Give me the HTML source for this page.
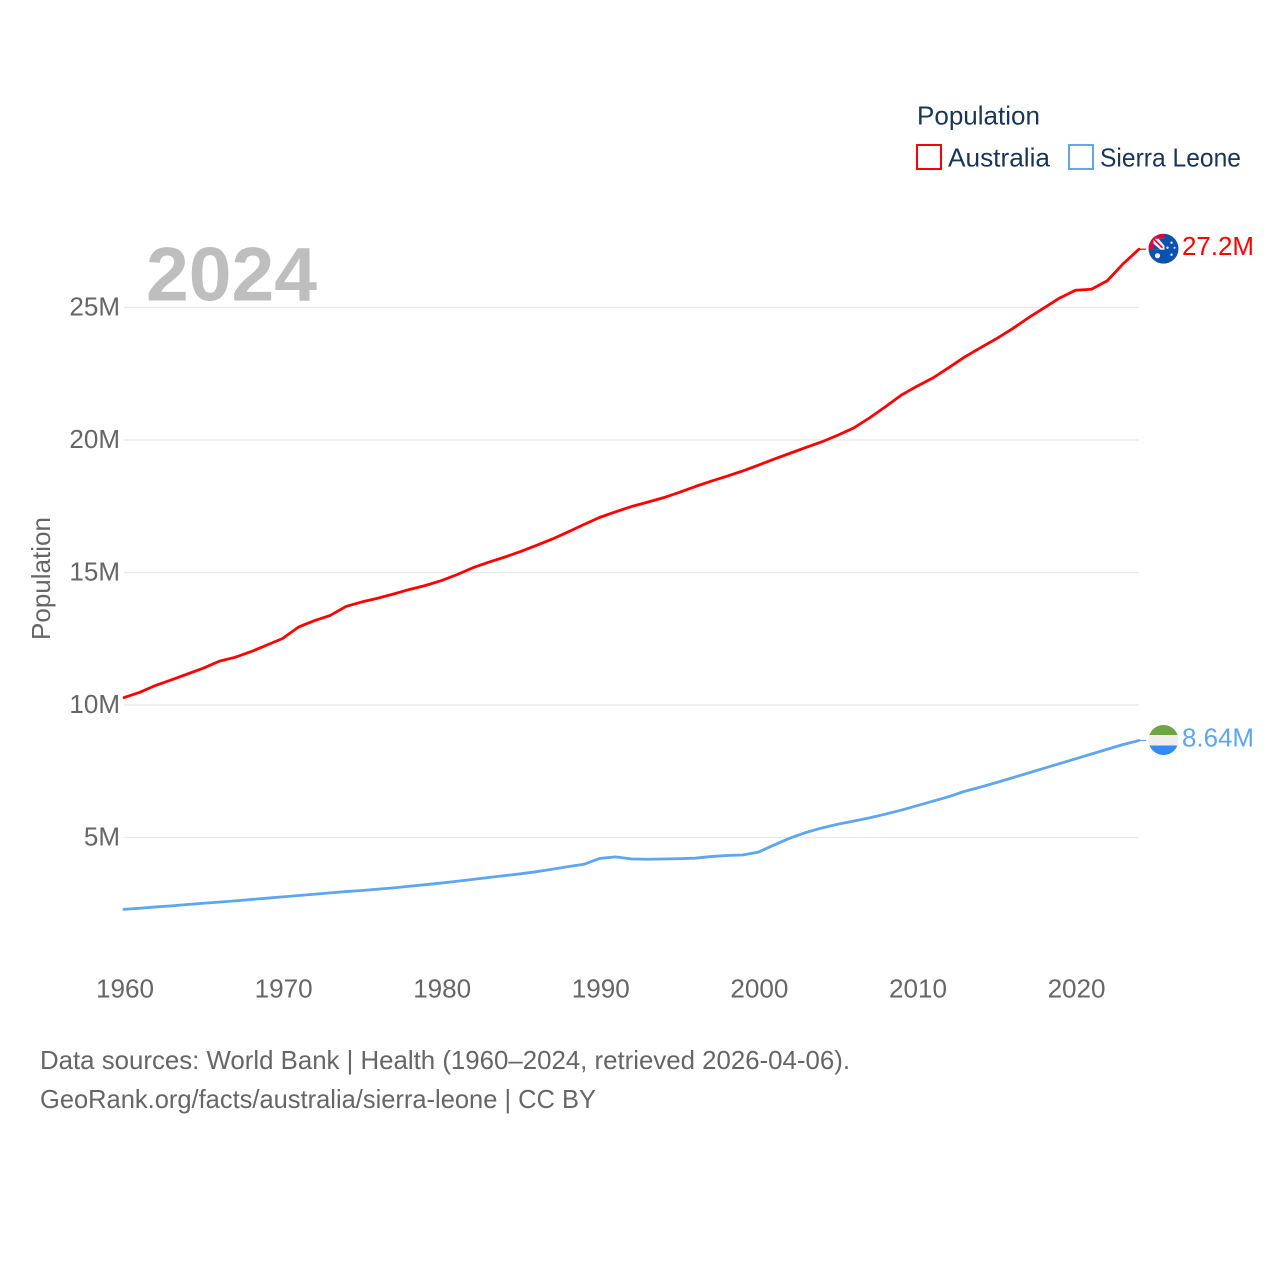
<!DOCTYPE html>
<html lang="en">
<head>
<meta charset="utf-8">
<title>Population: Australia and Sierra Leone</title>
<style>
html,body{margin:0;padding:0;background:#fff}
svg{display:block}
text{font-family:"Liberation Sans",sans-serif}
</style>
</head>
<body>
<svg id="chart" xmlns="http://www.w3.org/2000/svg" width="1280" height="1280" viewBox="0 0 1280 1280">
  <defs>
    <clipPath id="clip-au"><circle cx="0" cy="0" r="15"/></clipPath>
    <clipPath id="clip-sl"><circle cx="0" cy="0" r="15"/></clipPath>
  </defs>
  <rect x="0" y="0" width="1280" height="1280" fill="#fff"/>
  <g id="grid"></g>
  <g id="y-ticks"></g>
  <g id="x-ticks"></g>
  <text x="146" y="300.5" font-size="76" font-weight="700" fill="#bebebe" textLength="171" lengthAdjust="spacingAndGlyphs">2024</text>
  <text transform="translate(50,640) rotate(-90)" font-size="26" fill="#666" textLength="123" lengthAdjust="spacingAndGlyphs">Population</text>
  <g id="series"></g>
  <g id="ends"></g>

  <g>
    <text x="917" y="124.5" font-size="26" fill="#1b3556" textLength="123" lengthAdjust="spacingAndGlyphs">Population</text>
    <g>
      <rect x="917" y="145" width="24" height="24" fill="#fff" stroke="#ff0000" stroke-width="2"/>
      <text x="948" y="166.5" font-size="26" fill="#1b3556" textLength="102" lengthAdjust="spacingAndGlyphs">Australia</text>
    </g>
    <g>
      <rect x="1069" y="145" width="24" height="24" fill="#fff" stroke="#5ea6ee" stroke-width="2"/>
      <text x="1100" y="166.5" font-size="26" fill="#1b3556" textLength="141" lengthAdjust="spacingAndGlyphs">Sierra Leone</text>
    </g>
  </g>

  <text x="40" y="1069" font-size="26" fill="#666" textLength="810" lengthAdjust="spacingAndGlyphs">Data sources: World Bank | Health (1960–2024, retrieved 2026-04-06).</text>
  <text x="40" y="1108" font-size="26" fill="#666" textLength="556" lengthAdjust="spacingAndGlyphs">GeoRank.org/facts/australia/sierra-leone | CC BY</text>
</svg>
<script>
const firstYear = 1960;
const yTickValues = [5, 10, 15, 20, 25];
const yTickLabels = ["5M", "10M", "15M", "20M", "25M"];
const xTickYears = [1960, 1970, 1980, 1990, 2000, 2010, 2020];
const australia = [10.28,10.48,10.74,10.95,11.17,11.39,11.65,11.80,12.01,12.26,12.51,12.94,13.18,13.38,13.72,13.89,14.03,14.19,14.36,14.51,14.69,14.92,15.18,15.39,15.58,15.79,16.02,16.26,16.53,16.81,17.08,17.29,17.49,17.65,17.82,18.02,18.24,18.44,18.63,18.83,19.05,19.28,19.50,19.72,19.93,20.18,20.45,20.83,21.25,21.69,22.03,22.34,22.73,23.13,23.48,23.82,24.19,24.60,24.98,25.36,25.65,25.69,26.01,26.65,27.20];
const sierraLeone = [2.29,2.33,2.38,2.42,2.47,2.52,2.56,2.61,2.66,2.71,2.76,2.81,2.86,2.91,2.96,3.00,3.05,3.10,3.16,3.22,3.28,3.35,3.42,3.49,3.56,3.63,3.71,3.80,3.90,3.99,4.21,4.27,4.19,4.18,4.19,4.20,4.22,4.28,4.32,4.34,4.45,4.72,4.98,5.19,5.36,5.50,5.62,5.74,5.88,6.03,6.20,6.37,6.54,6.74,6.90,7.07,7.25,7.43,7.61,7.79,7.97,8.15,8.33,8.51,8.66];
const endLabels = ["27.2M", "8.64M"];

const NS = "http://www.w3.org/2000/svg";
const xScale = year => 124 + (year - firstYear) * (1015 / 64);
const yScale = value => 970 - value * 26.5;

function make(parent, tag, attrs, content) {
  const el = document.createElementNS(NS, tag);
  for (const key in attrs) el.setAttribute(key, attrs[key]);
  if (content !== undefined) el.textContent = content;
  parent.appendChild(el);
  return el;
}

const gridGroup = document.getElementById("grid");
const yTickGroup = document.getElementById("y-ticks");
yTickValues.forEach((value, i) => {
  const y = yScale(value);
  const line = make(gridGroup, "line", {x1: 124, x2: 1139, y1: y, y2: y, stroke: "#e8e8e8", "stroke-width": 1.3});
  
  
  const label = make(yTickGroup, "text", {x: 120, y: y + 8, "font-size": 26, fill: "#666", "text-anchor": "end"}, yTickLabels[i]);
  
  
});

const xTickGroup = document.getElementById("x-ticks");
xTickYears.forEach(year => {
  const label = make(xTickGroup, "text", {x: xScale(year) + 1, y: 997.5, "font-size": 26, fill: "#666", "text-anchor": "middle", textLength: 58, lengthAdjust: "spacingAndGlyphs"}, String(year));
  
  
});

const seriesGroup = document.getElementById("series");
const endsGroup = document.getElementById("ends");

function drawSeries(values, color, seriesName) {
  const points = values.map((v, i) => xScale(firstYear + i).toFixed(2) + "," + yScale(v).toFixed(2));
  const path = make(seriesGroup, "polyline", {points: points.join(" "), fill: "none", stroke: color, "stroke-width": 2.8, "stroke-linejoin": "round", "stroke-linecap": "round"});
  
  
}

function drawEnd(values, color, seriesName, labelText, flagFn) {
  const lastY = yScale(values[values.length - 1]);
  const lastX = xScale(firstYear + values.length - 1);
  const leader = make(endsGroup, "line", {x1: lastX, x2: 1146, y1: lastY, y2: lastY, stroke: color, "stroke-width": 1.2});
  
  
  const flag = make(endsGroup, "g", {transform: "translate(1163.5," + (lastY - 0.5) + ")"});
  
  
  flagFn(flag);
  const label = make(endsGroup, "text", {x: 1182, y: lastY + 6, "font-size": 26, fill: color, textLength: 72, lengthAdjust: "spacingAndGlyphs"}, labelText);
  
  
}

function australiaFlag(g) {
  const c = make(g, "g", {"clip-path": "url(#clip-au)"});
  make(c, "rect", {x: -15, y: -15, width: 30, height: 30, fill: "#0a52ad"});
  make(c, "path", {d: "M-15-15H1V-10H-10V1H-15Z", fill: "#d80a3c"});
  make(c, "path", {d: "M-10-10H1V1H-10Z", fill: "#f0f0f0"});
  make(c, "path", {d: "M-5-10H1V-3ZM-10-5L-3 1H-10Z", fill: "#0a52ad"});
  make(c, "path", {d: "M-10-10L-1-1", stroke: "#d80a3c", "stroke-width": 1.6, fill: "none"});
  make(c, "circle", {cx: -6, cy: 7, r: 2.6, fill: "#f0f0f0"});
  make(c, "circle", {cx: 8, cy: -6, r: 1.2, fill: "#f0f0f0"});
  make(c, "circle", {cx: 4, cy: -1, r: 1.2, fill: "#f0f0f0"});
  make(c, "circle", {cx: 11, cy: -1, r: 1, fill: "#f0f0f0"});
  make(c, "circle", {cx: 8, cy: 6, r: 1.2, fill: "#f0f0f0"});
}

function sierraLeoneFlag(g) {
  const c = make(g, "g", {"clip-path": "url(#clip-sl)"});
  make(c, "rect", {x: -15, y: -15, width: 30, height: 10, fill: "#6da544"});
  make(c, "rect", {x: -15, y: -5, width: 30, height: 10.5, fill: "#eeeeee"});
  make(c, "rect", {x: -15, y: 5.5, width: 30, height: 9.5, fill: "#338af3"});
}

drawSeries(sierraLeone, "#5ea6ee", "sierra-leone");
drawSeries(australia, "#ff0000", "australia");
drawEnd(australia, "#ff0000", "australia", endLabels[0], australiaFlag);
drawEnd(sierraLeone, "#5ea6ee", "sierra-leone", endLabels[1], sierraLeoneFlag);
</script>
</body>
</html>
